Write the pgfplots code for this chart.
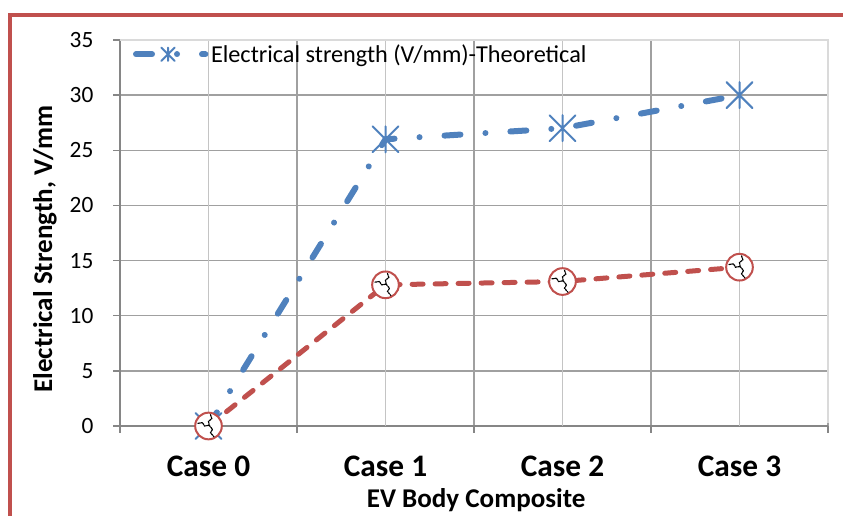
\documentclass[border=0pt]{standalone}
\usepackage{pgfplots}
\pgfplotsset{compat=1.18}
\usepackage{fontspec}
\setmainfont{Carlito}
\definecolor{exblue}{HTML}{4F81BD}
\definecolor{exred}{HTML}{C0504D}
\definecolor{gridmaj}{HTML}{A0A0A0}
\definecolor{gridmin}{HTML}{C4C4C4}
\definecolor{gridlight}{HTML}{DADADA}
\definecolor{axgray}{HTML}{868686}
\pgfdeclareplotmark{xstar}{%
  \pgfpathmoveto{\pgfqpoint{-\pgfplotmarksize}{-\pgfplotmarksize}}%
  \pgfpathlineto{\pgfqpoint{\pgfplotmarksize}{\pgfplotmarksize}}%
  \pgfpathmoveto{\pgfqpoint{-\pgfplotmarksize}{\pgfplotmarksize}}%
  \pgfpathlineto{\pgfqpoint{\pgfplotmarksize}{-\pgfplotmarksize}}%
  \pgfpathmoveto{\pgfqpoint{0pt}{-\pgfplotmarksize}}%
  \pgfpathlineto{\pgfqpoint{0pt}{\pgfplotmarksize}}%
  \pgfusepathqstroke}
\pgfdeclareplotmark{crackcircle}{%
  \begin{pgfscope}%
  \pgfsetfillcolor{white}\pgfsetstrokecolor{exred}%
  \pgfpathcircle{\pgfpointorigin}{\pgfplotmarksize}%
  \pgfusepathqfillstroke
  \pgfsetstrokecolor{black}\pgfsetlinewidth{0.9pt}%
  \pgfsetdash{{1.3pt}{0.7pt}}{0pt}%
  \pgfpathmoveto{\pgfqpoint{0.15\pgfplotmarksize}{0.85\pgfplotmarksize}}%
  \pgfpathlineto{\pgfqpoint{0.25\pgfplotmarksize}{0.55\pgfplotmarksize}}%
  \pgfpathlineto{\pgfqpoint{0.0\pgfplotmarksize}{0.35\pgfplotmarksize}}%
  \pgfpathlineto{\pgfqpoint{0.05\pgfplotmarksize}{0.05\pgfplotmarksize}}%
  \pgfpathlineto{\pgfqpoint{-0.3\pgfplotmarksize}{0.0\pgfplotmarksize}}%
  \pgfpathlineto{\pgfqpoint{-0.45\pgfplotmarksize}{0.25\pgfplotmarksize}}%
  \pgfpathlineto{\pgfqpoint{-0.8\pgfplotmarksize}{0.2\pgfplotmarksize}}%
  \pgfpathmoveto{\pgfqpoint{0.05\pgfplotmarksize}{0.05\pgfplotmarksize}}%
  \pgfpathlineto{\pgfqpoint{0.3\pgfplotmarksize}{-0.25\pgfplotmarksize}}%
  \pgfpathlineto{\pgfqpoint{0.15\pgfplotmarksize}{-0.5\pgfplotmarksize}}%
  \pgfpathlineto{\pgfqpoint{0.4\pgfplotmarksize}{-0.8\pgfplotmarksize}}%
  \pgfusepathqstroke
  \end{pgfscope}}
\begin{document}
\begin{tikzpicture}[x=1pt,y=1pt]
\path[use as bounding box] (0,0) rectangle (632.25,-387);
\draw[exred, line width=3pt] (7.5,-400) -- (7.5,-11.25) -- (645,-11.25);
\begin{axis}[
  at={(156.375pt,-319.5pt)}, anchor=origin,
  scale only axis, width=531pt, height=289.5pt,
  xmin=-0.5, xmax=3.5, ymin=0, ymax=35,
  clip=false,
  axis lines*=left,
  axis line style={axgray, line width=1.1pt},
  tick align=outside,
  tick style={axgray, line width=1.1pt},
  major tick length=5pt,
  xtick={-0.5,0.5,1.5,2.5,3.5},
  xticklabels={},
  extra x ticks={0,1,2,3},
  extra x tick labels={Case 0,Case 1,Case 2,Case 3},
  extra x tick style={major tick length=0pt, grid=major,
    major grid style={gridmin, line width=1.1pt},
    xticklabel style={font=\bfseries\fontsize{23.5}{27}\selectfont, anchor=center, yshift=-30pt}},
  ytick={0,5,...,35},
  xmajorgrids, ymajorgrids,
  major grid style={gridmaj, line width=1.1pt},
  /pgf/number format/assume math mode=true,
  yticklabel style={font=\fontsize{17.5}{20}\selectfont, anchor=east, inner sep=0pt, xshift=-14.75pt},
  xlabel={EV Body Composite},
  xlabel style={font=\bfseries\fontsize{20.3}{24}\selectfont, at={(axis description cs:0.503,-0.1917)}, anchor=center},
  ylabel={Electrical Strength, V/mm},
  ylabel style={font=\bfseries\fontsize{20.3}{24}\selectfont, at={(axis description cs:-0.106,0.4585)}, anchor=center},
  legend style={draw=none, fill=none, at={(axis description cs:0.018,0.963)}, anchor=west,
    font=\fontsize{18.2}{21}\selectfont, inner sep=0pt},
  legend cell align=left,
  legend image code/.code={\draw[mark repeat=2,mark phase=2,#1, mark size=5pt] plot coordinates {(0pt,0pt) (24pt,0pt) (52pt,0pt)};},
]
\addplot[exblue, line width=4.5pt, line cap=round,
  dash pattern=on 12pt off 18.75pt on 0.01pt off 18.75pt,
  mark=xstar, mark size=9.75pt, mark options={solid, line width=1.5pt}]
  coordinates {(0,0) (1,26) (2,27) (3,30)};
\addlegendentry{Electrical strength (V/mm)-Theoretical}
\addplot[exred, line width=3.75pt, line cap=round,
  dash pattern=on 8.25pt off 9pt, forget plot,
  mark=crackcircle, mark size=10pt, mark options={solid, line width=1.5pt}]
  coordinates {(0,0) (1,12.8) (2,13.1) (3,14.4)};
\draw[gridlight, line width=1.1pt] (axis cs:-0.5,35) -- (axis cs:3.5,35) -- (axis cs:3.5,0.3);
\end{axis}
\end{tikzpicture}
\end{document}
